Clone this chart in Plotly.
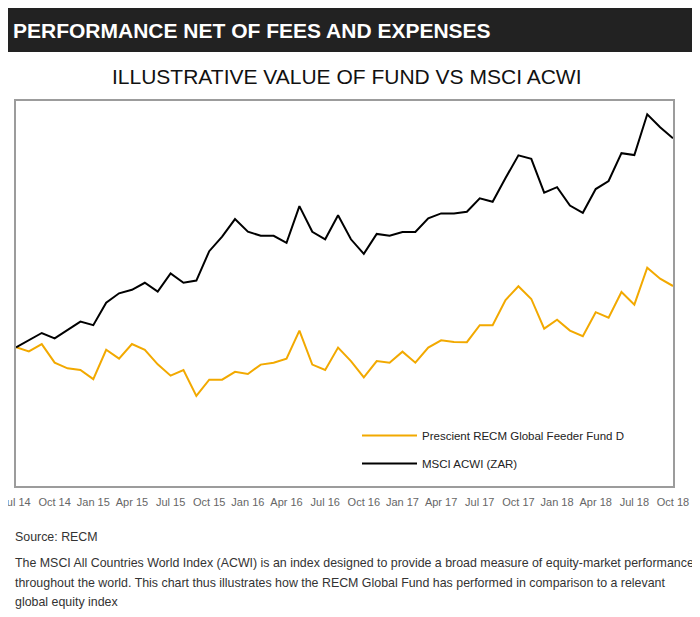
import plotly.graph_objects as go

# Month labels (monthly data, Jul 2014 .. Oct 2018)
months = [
    "Jul 14", "Aug 14", "Sep 14", "Oct 14", "Nov 14", "Dec 14",
    "Jan 15", "Feb 15", "Mar 15", "Apr 15", "May 15", "Jun 15",
    "Jul 15", "Aug 15", "Sep 15", "Oct 15", "Nov 15", "Dec 15",
    "Jan 16", "Feb 16", "Mar 16", "Apr 16", "May 16", "Jun 16",
    "Jul 16", "Aug 16", "Sep 16", "Oct 16", "Nov 16", "Dec 16",
    "Jan 17", "Feb 17", "Mar 17", "Apr 17", "May 17", "Jun 17",
    "Jul 17", "Aug 17", "Sep 17", "Oct 17", "Nov 17", "Dec 17",
    "Jan 18", "Feb 18", "Mar 18", "Apr 18", "May 18", "Jun 18",
    "Jul 18", "Aug 18", "Sep 18", "Oct 18",
]

fund = [
    10100, 9950, 10220, 9530, 9320, 9260, 8920, 10010, 9680, 10220,
    10010, 9470, 9050, 9260, 8300, 8900, 8900, 9190, 9110, 9460,
    9530, 9680, 10720, 9460, 9260, 10090, 9590, 8990, 9590, 9530,
    9940, 9530, 10090, 10360, 10300, 10290, 10920, 10920, 11850, 12360,
    11890, 10790, 11120, 10720, 10510, 11400, 11200, 12150, 11680, 13050,
    12640, 12370,
]

msci = [
    10100, 10370, 10630, 10430, 10730, 11050, 10920, 11750, 12100, 12230,
    12490, 12160, 12840, 12490, 12570, 13660, 14200, 14850, 14380, 14230,
    14230, 13970, 15330, 14380, 14100, 14990, 14100, 13560, 14300, 14230,
    14370, 14370, 14880, 15060, 15060, 15120, 15620, 15490, 16370, 17210,
    17080, 15830, 16030, 15350, 15080, 15960, 16260, 17290, 17220, 18730,
    18250, 17840,
]

y_ticks = [5000, 15000]
y_tick_text = ["R5 000", "R15 000"]

series_names = ["Prescient RECM Global Feeder Fund D", "MSCI ACWI (ZAR)"]

x_idx = list(range(len(months)))
tick_idx = x_idx[::3]
tick_text = months[::3]

fig = go.Figure()
fig.add_trace(go.Scatter(x=x_idx, y=fund, mode="lines", name=series_names[0],
                         line=dict(color="#F2A900", width=2), legendgroup="a"))
fig.add_trace(go.Scatter(x=x_idx, y=msci, mode="lines", name=series_names[1],
                         line=dict(color="#000000", width=2), legendgroup="b"))

sans = "Liberation Sans, Arial, sans-serif"
axis_font = dict(family=sans, size=11, color="#666666")

fig.update_xaxes(range=[0, len(months) - 1], tickvals=tick_idx, ticktext=tick_text,
                 showgrid=False, zeroline=False, showline=True, mirror=True,
                 linecolor="#9c9c9c", linewidth=2, ticks="", tickfont=axis_font,
                 ticklabelstandoff=5, automargin=False, ticklabeloverflow="allow")
fig.update_yaxes(range=[4963, 19222], tickvals=y_ticks, ticktext=y_tick_text,
                 showgrid=False, zeroline=False, showline=True, mirror=True,
                 linecolor="#9c9c9c", linewidth=2, ticks="", showticklabels=False,
                 automargin=False)

# page offset (browser body margin) = 8 px
OFF = 8
W, H = 700 - OFF, 617 - OFF
L, R, T, B = 16 - OFF, 700 - 673, 101 - OFF, 617 - 486
pw, ph = W - L - R, H - T - B


def px(xpage):
    return (xpage - OFF - L) / pw


def py(ypage):
    return (H - B - (ypage - OFF)) / ph


shapes = [dict(type="rect", xref="paper", yref="paper",
               x0=px(6), x1=px(710), y0=py(52), y1=py(7),
               fillcolor="#222222", line=dict(width=0), layer="below")]

body_font = dict(family=sans, size=12.4, color="#333333")
annotations = [
    dict(text="<b>PERFORMANCE NET OF FEES AND EXPENSES</b>", x=px(11), y=py(30),
         font=dict(family=sans, size=21, color="#ffffff"), xanchor="left"),
    dict(text="ILLUSTRATIVE VALUE OF FUND VS MSCI ACWI", x=px(346), y=py(76),
         font=dict(family=sans, size=21, color="#111111"), xanchor="center"),
    dict(text="Source: RECM", x=px(13), y=py(537), font=body_font, xanchor="left"),
    dict(text="The MSCI All Countries World Index (ACWI) is an index designed to provide a broad measure of equity-market performance",
         x=px(13), y=py(563), font=body_font, xanchor="left"),
    dict(text="throughout the world. This chart thus illustrates how the RECM Global Fund has performed in comparison to a relevant",
         x=px(13), y=py(583), font=body_font, xanchor="left"),
    dict(text="global equity index",
         x=px(13), y=py(602), font=body_font, xanchor="left"),
]
for a in annotations:
    a.update(xref="paper", yref="paper", yanchor="middle", showarrow=False)

fig.update_layout(
    width=W, height=H,
    margin=dict(l=L, r=R, t=T, b=B, autoexpand=False),
    paper_bgcolor="white", plot_bgcolor="white",
    shapes=shapes, annotations=annotations,
    showlegend=True,
    legend=dict(x=px(357), y=py(421), xanchor="left", yanchor="top",
                bgcolor="rgba(0,0,0,0)", tracegroupgap=9, itemwidth=55,
                font=dict(family=sans, size=11.5, color="#222222")),
)

fig.write_html("out.html")
